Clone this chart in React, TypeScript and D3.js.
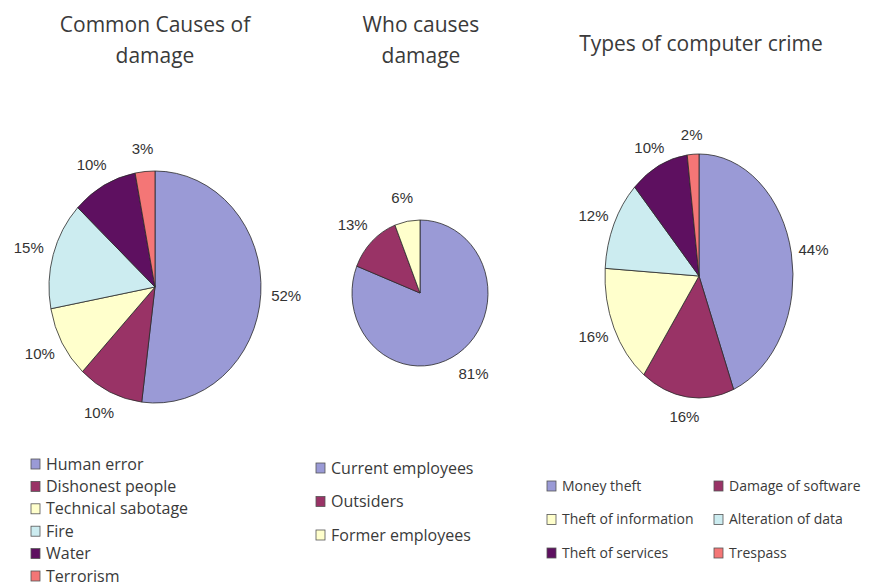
import { useEffect, useRef } from "react";
import * as d3 from "d3";

// colours shared by all three pies (Excel 2003 pie palette, slightly washed)
const palette = ["#9a9ad6", "#993366", "#ffffcc", "#ccecf0", "#5e1060", "#f47676"];

const causeLabels = ["Human error", "Dishonest people", "Technical sabotage", "Fire", "Water", "Terrorism"];
const causeValues = [52, 10, 10, 15, 10, 3];

const whoLabels = ["Current employees", "Outsiders", "Former employees"];
const whoValues = [81, 13, 6];

const crimeLabels = ["Money theft", "Damage of software", "Theft of information", "Alteration of data", "Theft of services", "Trespass"];
const crimeValues = [44, 16, 16, 12, 10, 2];

const W = 873;
const H = 588;

type PieSpec = {
  title: string[];
  titleX: number;
  titleY: number;
  cx: number;
  cy: number;
  rx: number;
  ry: number;
  values: number[];
  labelKx: number;
  labelKy: number;
};

const pies: PieSpec[] = [
  { title: ["Common Causes of", "damage"], titleX: 155, titleY: 25, cx: 155, cy: 287, rx: 106, ry: 116, values: causeValues, labelKx: 1.24, labelKy: 1.2 },
  { title: ["Who causes", "damage"], titleX: 421, titleY: 25, cx: 420, cy: 293, rx: 68, ry: 73, values: whoValues, labelKx: 1.4, labelKy: 1.33 },
  { title: ["Types of computer crime"], titleX: 701, titleY: 44, cx: 699, cy: 276, rx: 94, ry: 122, values: crimeValues, labelKx: 1.24, labelKy: 1.16 },
];

export default function App() {
  const svgRef = useRef<SVGSVGElement | null>(null);

  useEffect(() => {
    if (!svgRef.current) return;
    const svg = d3.select(svgRef.current);
    svg.selectAll("*").remove();

    const pieGen = d3.pie<number>().sort(null).value((d) => d);

    pies.forEach((p) => {
      // titles
      const t = svg.append("text")
        .attr("x", p.titleX)
        .attr("y", p.titleY)
        .attr("text-anchor", "middle")
        .style("font-family", "'Open Sans', 'DejaVu Sans', sans-serif")
        .style("font-size", "21px")
        .style("fill", "#3a3a3a");
      p.title.forEach((line, i) => {
        t.append("tspan").attr("x", p.titleX).attr("dy", i === 0 ? "0.35em" : "1.45em").text(line);
      });

      const arcs = pieGen(p.values);
      const arc = d3.arc<d3.PieArcDatum<number>>().innerRadius(0).outerRadius(p.ry);

      const g = svg.append("g")
        .attr("transform", `translate(${p.cx},${p.cy}) scale(${p.rx / p.ry},1)`);

      g.selectAll("path")
        .data(arcs)
        .join("path")
        .attr("d", arc)
        .attr("fill", (_, i) => palette[i])
        .attr("stroke", "#2a2a2a")
        .attr("stroke-width", 0.8)
        .attr("vector-effect", "non-scaling-stroke");

      // percentage labels outside the ellipse
      svg.append("g")
        .selectAll("text")
        .data(arcs)
        .join("text")
        .attr("x", (d) => {
          const a = (d.startAngle + d.endAngle) / 2;
          return p.cx + Math.sin(a) * p.rx * p.labelKx;
        })
        .attr("y", (d) => {
          const a = (d.startAngle + d.endAngle) / 2;
          return p.cy - Math.cos(a) * p.ry * p.labelKy;
        })
        .attr("dy", "0.35em")
        .attr("text-anchor", "middle")
        .style("font-family", "'Liberation Sans', Arial, sans-serif")
        .style("font-size", "15px")
        .style("fill", "#333")
        .text((d) => `${d.data}%`);
    });

    const legendFont = "'Open Sans', 'DejaVu Sans', sans-serif";

    const drawItem = (x: number, y: number, color: number, label: string, size: number) => {
      svg.append("rect")
        .attr("x", x)
        .attr("y", y - 5)
        .attr("width", 9)
        .attr("height", 10)
        .attr("fill", palette[color])
        .attr("stroke", "#555")
        .attr("stroke-width", 0.8);
      svg.append("text")
        .attr("x", x + 15)
        .attr("y", y)
        .attr("dy", "0.35em")
        .style("font-family", legendFont)
        .style("font-size", `${size}px`)
        .style("fill", "#3a3a3a")
        .text(label);
    };

    // legend 1
    const y1 = d3.scalePoint<number>().domain(d3.range(causeLabels.length)).range([464, 576]);
    causeLabels.forEach((l, i) => drawItem(31, y1(i)!, i, l, 16));

    // legend 2
    const y2 = d3.scalePoint<number>().domain(d3.range(whoLabels.length)).range([468, 535]);
    whoLabels.forEach((l, i) => drawItem(316, y2(i)!, i, l, 16));

    // legend 3, two columns
    const y3 = d3.scalePoint<number>().domain([0, 1, 2]).range([486, 553]);
    crimeLabels.forEach((l, i) => {
      const col = i % 2;
      const row = Math.floor(i / 2);
      drawItem(col === 0 ? 547 : 714, y3(row)!, i, l, 14);
    });
  }, []);

  return (
    <svg
      ref={svgRef}
      width={W}
      height={H}
      style={{ position: "absolute", left: 0, top: 0, background: "#fff" }}
    />
  );
}
